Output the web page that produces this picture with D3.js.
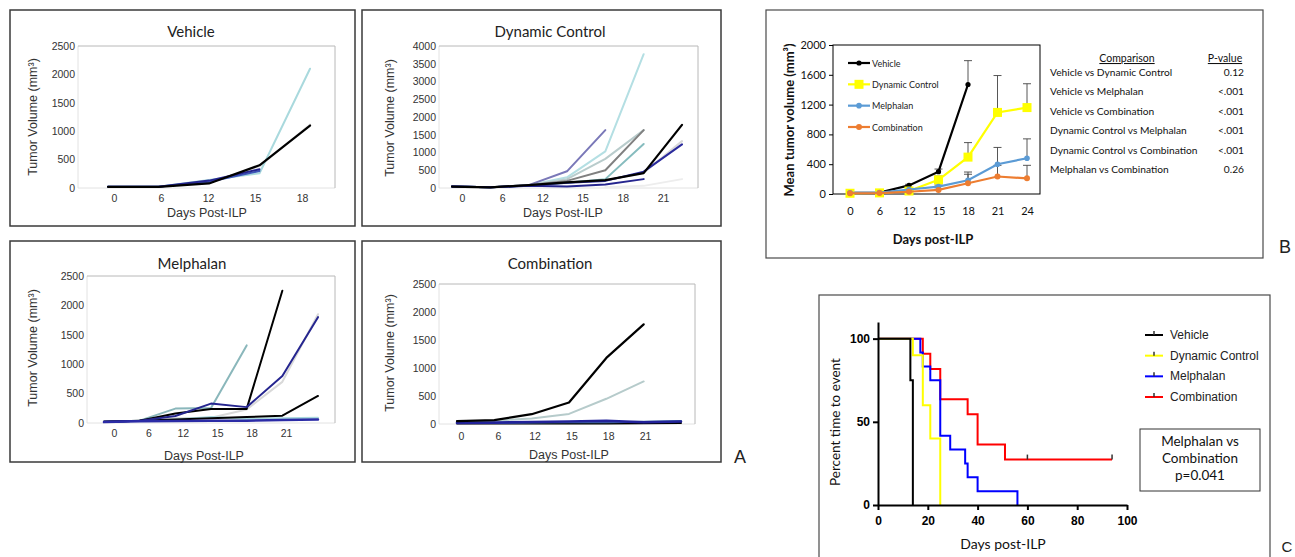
<!DOCTYPE html>
<html><head><meta charset="utf-8">
<script src="https://cdn.jsdelivr.net/npm/d3@7"></script>
<style>body{margin:0;background:#fff}svg{display:block}</style>
</head><body>
<svg id="fig" width="1295" height="557"></svg>
<script>
// ================= DATA =================
// Panel A – Vehicle
const vehicleDays = [0, 6, 12, 15, 18];
const vehicleTickLabels = ["0", "6", "12", "15", "18"];
const vehicleMouse1 = [20, 20, 100, 380, 1120];
const vehicleMouse2 = [20, 20, 140, 260, 2100];
const vehicleMouse3 = [20, 20, 110, 300, null];
const vehicleMouse4 = [20, 20, 130, 330, null];
const vehicleMouse5 = [20, 20, 80, 400, 1100];
// Panel A – Dynamic Control
const dynamicDays = [0, 6, 12, 15, 18, 21, 24];
const dynamicTickLabels = ["0", "6", "12", "15", "18", "21"];
const dynamicMouse1 = [null, null, null, null, 20, 60, 250];
const dynamicMouse2 = [40, 20, 70, 140, 210, 430, 1320];
const dynamicMouse3 = [40, 20, 80, 300, 1030, 3770, null];
const dynamicMouse4 = [40, 20, 80, 250, 820, 1630, null];
const dynamicMouse5 = [40, 20, 80, 470, 1630, null, null];
const dynamicMouse6 = [40, 20, 80, 200, 500, 1630, null];
const dynamicMouse7 = [40, 20, 70, 150, 250, 1240, null];
const dynamicMouse8 = [40, 20, 60, 40, 100, 250, null];
const dynamicMouse9 = [40, 20, 70, 150, 200, 460, 1230];
const dynamicMouse10 = [40, 20, 80, 160, 220, 420, 1780];
// Panel A – Melphalan
const melphalanDays = [0, 6, 12, 15, 18, 21, 24];
const melphalanTickLabels = ["0", "6", "12", "15", "18", "21"];
const melphalanMouse1 = [20, 40, 80, 90, 230, 700, 1850];
const melphalanMouse2 = [20, 40, 60, 100, 70, 80, 90];
const melphalanMouse3 = [20, 40, 245, 255, 1320, null, null];
const melphalanMouse4 = [20, 40, 60, 80, 100, 125, 460];
const melphalanMouse5 = [20, 40, 160, 240, 240, 2250, null];
const melphalanMouse6 = [20, 40, 120, 330, 270, 800, 1800];
const melphalanMouse7 = [15, 30, 35, 40, 40, 50, 60];
// Panel A – Combination
const combinationDays = [0, 6, 12, 15, 18, 21, 24];
const combinationTickLabels = ["0", "6", "12", "15", "18", "21"];
const combinationMouse1 = [40, 60, 100, 180, 450, 760, null];
const combinationMouse2 = [10, 10, 10, 10, 10, 15, 20];
const combinationMouse3 = [20, 20, 25, 30, 30, 40, 55];
const combinationMouse4 = [20, 25, 35, 45, 55, 30, 45];
const combinationMouse5 = [50, 70, 175, 385, 1180, 1780, null];

// Panel B – mean tumour volume
const meanDays = [0, 6, 12, 15, 18, 21, 24];
const meanVehicle = [15, 20, 115, 300, 1470, null, null];
const errVehicle = [0, 0, 15, 35, 320, null, null];
const meanDynamic = [10, 15, 40, 190, 495, 1095, 1160];
const errDynamic = [0, 0, 0, 50, 195, 495, 320];
const meanMelphalan = [15, 20, 60, 100, 185, 400, 480];
const errMelphalan = [0, 0, 10, 20, 110, 225, 260];
const meanCombination = [10, 12, 30, 55, 145, 235, 210];
const errCombination = [0, 0, 5, 10, 120, 150, 175];
const groupNames = ["Vehicle", "Dynamic Control", "Melphalan", "Combination"];
const comparisons = ["Vehicle vs Dynamic Control", "Vehicle vs Melphalan", "Vehicle vs Combination",
  "Dynamic Control vs Melphalan", "Dynamic Control vs Combination", "Melphalan vs Combination"];
const pValues = ["0.12", "<.001", "<.001", "<.001", "<.001", "0.26"];

// Panel C – Kaplan-Meier
const kmVehicleTime = [0, 13, 14];
const kmVehicleSurv = [100, 75, 0];
const kmDynamicTime = [0, 14, 18, 21, 25];
const kmDynamicSurv = [100, 90, 60, 40, 0];
const kmMelphalanTime = [0, 17, 18, 21, 25, 29, 35, 36, 40, 56];
const kmMelphalanSurv = [100, 91.7, 83.3, 75, 41.7, 33.3, 25, 16.7, 8.3, 0];
const kmCombinationTime = [0, 18, 21, 25, 36, 40, 51, 94];
const kmCombinationSurv = [100, 90.9, 81.8, 63.6, 54.5, 36.4, 27.3, 27.3];
const kmCombinationCensorTime = [60, 94];
const kmCombinationCensorSurv = [27.3, 27.3];
const kmXTicks = [0, 20, 40, 60, 80, 100];
const kmYTicks = [0, 50, 100];

// ================= DRAWING =================
const ARIAL = "'Liberation Sans', Arial, sans-serif";
const CAL = "Lato, 'Open Sans', sans-serif";
const fmt = d3.format("d");
const svg = d3.select("#fig");
svg.append("rect").attr("width", 1295).attr("height", 557).attr("fill", "#fff");

function panelA(p) {
  const g = svg.append("g");
  const [bx0, by0, bx1, by1] = p.box;
  g.append("rect").attr("x", bx0).attr("y", by0).attr("width", bx1 - bx0).attr("height", by1 - by0)
    .attr("fill", "#fff").attr("stroke", "#3a3a3a").attr("stroke-width", 1.5);
  const [l, t, r, b] = p.frame;
  const y = d3.scaleLinear().domain([0, p.yMax]).range([b, t]);
  const xd = d3.scalePoint().domain(p.days).range(p.dataRange);
  const xl = d3.scalePoint().domain(p.labels).range(p.labelRange);
  g.append("path").attr("d", `M${l},${t}V${b}H${r}`).attr("fill", "none").attr("stroke", "#e2e2e2");
  g.append("path").attr("d", `M${l},${t}H${r}V${b}`).attr("fill", "none").attr("stroke", "#b8b8b8");
  const ya = g.append("g").attr("transform", `translate(${l},0)`)
    .call(d3.axisLeft(y).tickValues(d3.range(0, p.yMax + 1, p.yStep)).tickFormat(fmt).tickSize(0).tickPadding(3));
  ya.select(".domain").remove();
  ya.selectAll("text").attr("font-family", ARIAL).attr("font-size", 10.5).attr("fill", "#333");
  const xa = g.append("g").attr("transform", `translate(0,${b})`)
    .call(d3.axisBottom(xl).tickSize(0).tickPadding(p.tickPad));
  xa.select(".domain").remove();
  xa.selectAll("text").attr("font-family", ARIAL).attr("font-size", 10.5).attr("fill", "#333");
  const line = d3.line().defined(d => d[1] != null).x(d => xd(d[0])).y(d => y(d[1]));
  p.series.forEach(s => {
    g.append("path").datum(p.days.map((d, i) => [d, s.values[i]]))
      .attr("d", line).attr("fill", "none").attr("stroke", s.color)
      .attr("stroke-width", s.w || 2).attr("stroke-linejoin", "round").attr("stroke-linecap", "round");
  });
  g.append("text").attr("x", p.titleX).attr("y", p.titleY).attr("text-anchor", "middle")
    .attr("font-family", CAL).attr("font-size", 15).attr("fill", "#222").text(p.title);
  g.append("text").attr("x", p.xTitleX).attr("y", p.xTitleY).attr("text-anchor", "middle")
    .attr("font-family", ARIAL).attr("font-size", 12.5).attr("fill", "#333").text("Days Post-ILP");
  g.append("text").attr("transform", `translate(${p.yTitleX},${p.yTitleY}) rotate(-90)`)
    .attr("text-anchor", "middle").attr("dominant-baseline", "central")
    .attr("font-family", ARIAL).attr("font-size", 12.5).attr("fill", "#333").text("Tumor Volume (mm³)");
}

const C_BLACK = "#000", C_CYAN = "#a9d9dd", C_NAVY = "#25258f", C_BLUE = "#3d56b8",
  C_PURPLE = "#7a78b8", C_GRAY = "#808080", C_SILVER = "#b9cccc", C_TEAL = "#86bcbe",
  C_LIGHT = "#d9d9d9", C_FAINT = "#ededed";

panelA({
  box: [10, 10, 355, 226], frame: [78, 46, 335, 188], yMax: 2500, yStep: 500,
  days: vehicleDays, labels: vehicleTickLabels, dataRange: [108, 310], labelRange: [114, 302], tickPad: 6.5,
  title: "Vehicle", titleX: 191, titleY: 37, xTitleX: 207, xTitleY: 216.5, yTitleX: 33, yTitleY: 117,
  series: [
    { values: vehicleMouse1, color: C_FAINT },
    { values: vehicleMouse2, color: C_CYAN },
    { values: vehicleMouse3, color: C_BLUE },
    { values: vehicleMouse4, color: C_NAVY },
    { values: vehicleMouse5, color: C_BLACK, w: 2.2 }
  ]
});
panelA({
  box: [362, 10, 721, 226], frame: [439, 46, 698, 188], yMax: 4000, yStep: 500,
  days: dynamicDays, labels: dynamicTickLabels, dataRange: [452, 682], labelRange: [462, 663], tickPad: 6.5,
  title: "Dynamic Control", titleX: 550, titleY: 37, xTitleX: 563, xTitleY: 216.5, yTitleX: 390, yTitleY: 118,
  series: [
    { values: dynamicMouse1, color: C_FAINT },
    { values: dynamicMouse2, color: C_LIGHT },
    { values: dynamicMouse3, color: "#b4dfe3" },
    { values: dynamicMouse4, color: C_SILVER },
    { values: dynamicMouse5, color: C_PURPLE },
    { values: dynamicMouse6, color: C_GRAY },
    { values: dynamicMouse7, color: C_TEAL },
    { values: dynamicMouse8, color: C_NAVY },
    { values: dynamicMouse9, color: "#2a2a9c" },
    { values: dynamicMouse10, color: C_BLACK, w: 2.2 }
  ]
});
panelA({
  box: [10, 241, 355, 462], frame: [87, 276, 335, 423], yMax: 2500, yStep: 500,
  days: melphalanDays, labels: melphalanTickLabels, dataRange: [104, 318], labelRange: [114, 286], tickPad: 6.5,
  title: "Melphalan", titleX: 192, titleY: 269, xTitleX: 204, xTitleY: 459.5, yTitleX: 33, yTitleY: 348,
  series: [
    { values: melphalanMouse1, color: C_LIGHT },
    { values: melphalanMouse2, color: C_CYAN },
    { values: melphalanMouse3, color: "#8ab7bb" },
    { values: melphalanMouse4, color: C_BLACK },
    { values: melphalanMouse5, color: C_BLACK },
    { values: melphalanMouse6, color: C_NAVY },
    { values: melphalanMouse7, color: "#2b2ba6", w: 2.5 }
  ]
});
panelA({
  box: [362, 241, 721, 462], frame: [439, 284, 695, 424], yMax: 2500, yStep: 500,
  days: combinationDays, labels: combinationTickLabels, dataRange: [457, 681], labelRange: [461, 645], tickPad: 8.5,
  title: "Combination", titleX: 550, titleY: 269, xTitleX: 569, xTitleY: 458.5, yTitleX: 390, yTitleY: 353,
  series: [
    { values: combinationMouse1, color: "#b6cbcb" },
    { values: combinationMouse2, color: C_BLACK },
    { values: combinationMouse3, color: "#4b7fa6" },
    { values: combinationMouse4, color: "#22229a", w: 2.6 },
    { values: combinationMouse5, color: C_BLACK, w: 2.2 }
  ]
});

// Letters
function letter(txt, x, y, size) {
  svg.append("text").attr("x", x).attr("y", y).attr("text-anchor", "middle")
    .attr("font-family", ARIAL).attr("font-size", size || 18).attr("fill", "#222").text(txt);
}
letter("A", 740, 463);
letter("B", 1285, 253);
letter("C", 1287, 552, 15);

// ================= PANEL B =================
(function () {
  const g = svg.append("g");
  g.append("rect").attr("x", 766).attr("y", 10).attr("width", 497).attr("height", 248)
    .attr("fill", "#fff").attr("stroke", "#4a4a4a").attr("stroke-width", 1.2);
  const l = 833, t = 45, r = 1040, b = 194;
  const y = d3.scaleLinear().domain([0, 2000]).range([b, t]);
  const x = d3.scalePoint().domain(meanDays).range([850, 1027]);
  g.append("rect").attr("x", l).attr("y", t).attr("width", r - l).attr("height", b - t)
    .attr("fill", "none").attr("stroke", "#000").attr("stroke-width", 1);
  const ya = g.append("g").attr("transform", `translate(${l},0)`)
    .call(d3.axisLeft(y).tickValues(d3.range(0, 2001, 400)).tickFormat(fmt).tickSize(4).tickPadding(3).tickSizeOuter(0));
  ya.select(".domain").remove();
  ya.selectAll("text").attr("font-family", CAL).attr("font-size", 11).attr("fill", "#111");
  const xa = g.append("g").attr("transform", `translate(0,${b})`)
    .call(d3.axisBottom(x).tickSize(0).tickPadding(13));
  xa.select(".domain").remove();
  xa.selectAll("text").attr("font-family", CAL).attr("font-size", 11).attr("fill", "#111");
  g.append("text").attr("x", 933).attr("y", 244).attr("text-anchor", "middle")
    .attr("font-family", CAL).attr("font-weight", "bold").attr("font-size", 13).attr("fill", "#111").text("Days post-ILP");
  g.append("text").attr("transform", "translate(789,120) rotate(-90)").attr("text-anchor", "middle")
    .attr("dominant-baseline", "central").attr("font-family", CAL).attr("font-weight", "bold")
    .attr("font-size", 13).attr("fill", "#111").text("Mean tumor volume (mm³)");

  const groups = [
    { name: groupNames[0], mean: meanVehicle, err: errVehicle, color: "#000", marker: "circle", size: 2.6 },
    { name: groupNames[1], mean: meanDynamic, err: errDynamic, color: "#ffff00", marker: "square", size: 4.5 },
    { name: groupNames[2], mean: meanMelphalan, err: errMelphalan, color: "#5b9bd5", marker: "circle", size: 2.8 },
    { name: groupNames[3], mean: meanCombination, err: errCombination, color: "#ed7d31", marker: "circle", size: 3 }
  ];
  const line = d3.line().defined(d => d[1] != null).x(d => x(d[0])).y(d => y(d[1]));
  function marker(sel, grp, cx, cy) {
    if (grp.marker === "square") {
      sel.append("rect").attr("x", cx - grp.size).attr("y", cy - grp.size)
        .attr("width", grp.size * 2).attr("height", grp.size * 2).attr("fill", grp.color);
    } else {
      sel.append("circle").attr("cx", cx).attr("cy", cy).attr("r", grp.size).attr("fill", grp.color);
    }
  }
  groups.forEach(grp => {
    meanDays.forEach((d, i) => {
      const m = grp.mean[i], e = grp.err[i];
      if (m == null || !e) return;
      const cx = x(d), y0 = y(m), y1 = y(m + e);
      g.append("line").attr("x1", cx).attr("x2", cx).attr("y1", y0).attr("y2", y1)
        .attr("stroke", "#444").attr("stroke-width", 0.9);
      g.append("line").attr("x1", cx - 4).attr("x2", cx + 4).attr("y1", y1).attr("y2", y1)
        .attr("stroke", "#444").attr("stroke-width", 0.9);
    });
  });
  groups.forEach(grp => {
    g.append("path").datum(meanDays.map((d, i) => [d, grp.mean[i]])).attr("d", line)
      .attr("fill", "none").attr("stroke", grp.color).attr("stroke-width", 2.2);
    meanDays.forEach((d, i) => { if (grp.mean[i] != null) marker(g, grp, x(d), y(grp.mean[i])); });
  });
  const legY = d3.scalePoint().domain(groupNames).range([63, 127]);
  groups.forEach(grp => {
    const yy = legY(grp.name);
    g.append("line").attr("x1", 848).attr("x2", 870).attr("y1", yy).attr("y2", yy)
      .attr("stroke", grp.color).attr("stroke-width", 2.2);
    marker(g, grp, 859, yy);
    g.append("text").attr("x", 872).attr("y", yy).attr("dominant-baseline", "central")
      .attr("font-family", CAL).attr("font-size", 9).attr("fill", "#222").text(grp.name);
  });
  g.append("text").attr("x", 1127).attr("y", 62).attr("text-anchor", "middle").attr("text-decoration", "underline")
    .attr("font-family", CAL).attr("font-size", 10.5).attr("fill", "#111").text("Comparison");
  g.append("text").attr("x", 1225).attr("y", 62).attr("text-anchor", "middle").attr("text-decoration", "underline")
    .attr("font-family", CAL).attr("font-size", 10.5).attr("fill", "#111").text("P-value");
  const rowY = d3.scalePoint().domain(comparisons).range([72, 169]);
  comparisons.forEach((c, i) => {
    g.append("text").attr("x", 1050).attr("y", rowY(c)).attr("dominant-baseline", "central")
      .attr("font-family", CAL).attr("font-size", 10.2).attr("fill", "#111").text(c);
    g.append("text").attr("x", 1244).attr("y", rowY(c)).attr("dominant-baseline", "central").attr("text-anchor", "end")
      .attr("font-family", CAL).attr("font-size", 10.2).attr("fill", "#111").text(pValues[i]);
  });
})();

// ================= PANEL C =================
(function () {
  const g = svg.append("g");
  g.append("rect").attr("x", 819).attr("y", 295).attr("width", 451).attr("height", 275)
    .attr("fill", "#fff").attr("stroke", "#4a4a4a").attr("stroke-width", 1.2);
  const x = d3.scaleLinear().domain([0, 100]).range([878, 1127]);
  const y = d3.scaleLinear().domain([0, 110]).range([505, 322]);
  const km = [
    { name: "Combination", t: kmCombinationTime, s: kmCombinationSurv, color: "#ff0000" },
    { name: "Melphalan", t: kmMelphalanTime, s: kmMelphalanSurv, color: "#0000ff" },
    { name: "Dynamic Control", t: kmDynamicTime, s: kmDynamicSurv, color: "#ffff00" },
    { name: "Vehicle", t: kmVehicleTime, s: kmVehicleSurv, color: "#000" }
  ];
  const line = d3.line().curve(d3.curveStepAfter).x(d => x(d[0])).y(d => y(d[1]));
  km.forEach(k => {
    g.append("path").datum(k.t.map((tt, i) => [tt, k.s[i]])).attr("d", line)
      .attr("fill", "none").attr("stroke", k.color).attr("stroke-width", 2);
  });
  kmCombinationCensorTime.forEach((tt, i) => {
    const cx = x(tt), cy = y(kmCombinationCensorSurv[i]);
    g.append("line").attr("x1", cx).attr("x2", cx).attr("y1", cy).attr("y2", cy - 5)
      .attr("stroke", "#333").attr("stroke-width", 1.5);
  });
  const ya = g.append("g").attr("transform", "translate(878,0)")
    .call(d3.axisLeft(y).tickValues(kmYTicks).tickSize(5).tickPadding(3).tickSizeOuter(0));
  const xa = g.append("g").attr("transform", "translate(0,505)")
    .call(d3.axisBottom(x).tickValues(kmXTicks).tickSize(5).tickPadding(6).tickSizeOuter(0));
  [ya, xa].forEach(a => {
    a.selectAll("path,line").attr("stroke", "#000").attr("stroke-width", 2);
    a.selectAll("text").attr("font-family", ARIAL).attr("font-weight", "bold").attr("font-size", 12).attr("fill", "#000");
  });
  g.append("text").attr("x", 1003).attr("y", 549).attr("text-anchor", "middle")
    .attr("font-family", CAL).attr("font-size", 14).attr("fill", "#111").text("Days post-ILP");
  g.append("text").attr("transform", "translate(835,422) rotate(-90)").attr("text-anchor", "middle")
    .attr("dominant-baseline", "central").attr("font-family", CAL).attr("font-size", 13.5)
    .attr("fill", "#111").text("Percent time to event");
  const legOrder = ["Vehicle", "Dynamic Control", "Melphalan", "Combination"];
  const legY = d3.scalePoint().domain(legOrder).range([335, 397]);
  legOrder.forEach(n => {
    const k = km.find(d => d.name === n);
    const yy = legY(n);
    g.append("line").attr("x1", 1145).attr("x2", 1163).attr("y1", yy).attr("y2", yy)
      .attr("stroke", k.color).attr("stroke-width", 2);
    g.append("line").attr("x1", 1154).attr("x2", 1154).attr("y1", yy).attr("y2", yy - 4)
      .attr("stroke", "#333").attr("stroke-width", 1.5);
    g.append("text").attr("x", 1170).attr("y", yy).attr("dominant-baseline", "central")
      .attr("font-family", ARIAL).attr("font-size", 12).attr("fill", "#222").text(n);
  });
  g.append("rect").attr("x", 1140).attr("y", 429).attr("width", 120).attr("height", 62)
    .attr("fill", "#fff").attr("stroke", "#333").attr("stroke-width", 1);
  ["Melphalan vs", "Combination", "p=0.041"].forEach((s, i) => {
    g.append("text").attr("x", 1200).attr("y", 441 + i * 17).attr("text-anchor", "middle")
      .attr("dominant-baseline", "central").attr("font-family", CAL).attr("font-size", 13.5)
      .attr("fill", "#111").text(s);
  });
})();
</script>
</body></html>
